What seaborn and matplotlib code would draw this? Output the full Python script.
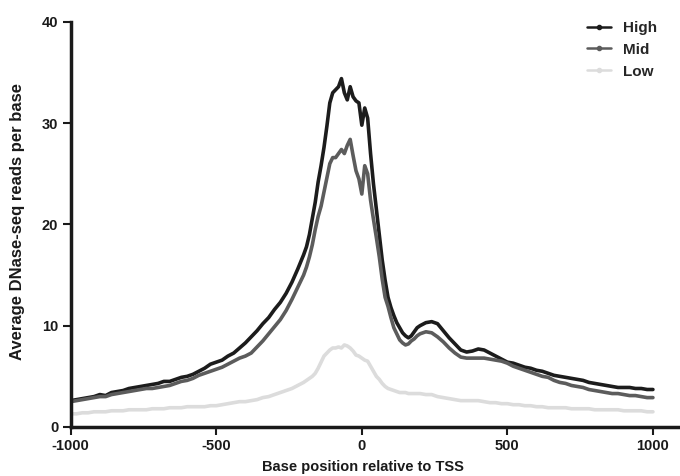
import numpy as np
import pandas as pd
import matplotlib
matplotlib.use("Agg")
import matplotlib.pyplot as plt
from matplotlib.lines import Line2D
import seaborn as sns

# posicoes (passo 20 nas bordas, 10 perto do TSS)
pos = np.concatenate([np.arange(-1000, -200, 20), np.arange(-200, 200, 10), np.arange(200, 1001, 20)])

high = [2.6, 2.7, 2.8, 2.9, 3.0, 3.2, 3.1, 3.4, 3.5, 3.6, 3.8, 3.9, 4.0, 4.1, 4.2, 4.3, 4.5, 4.5, 4.7, 4.9,
        5.0, 5.2, 5.5, 5.8, 6.2, 6.4, 6.6, 7.0, 7.3, 7.8, 8.3, 8.9, 9.5, 10.2, 10.8, 11.6, 12.3, 13.2, 14.3, 15.6,
        17.0, 17.8, 19.0, 20.6, 22.2, 24.2, 25.8, 27.6, 29.7, 32.0, 33.0, 33.3, 33.6, 34.4, 33.0, 32.3, 33.6, 32.6, 32.2, 32.0,
        29.8, 31.5, 30.5, 27.0, 24.0, 21.5, 19.0, 16.5, 14.5, 12.8, 11.8, 11.0, 10.3, 9.8, 9.3, 9.0, 8.8, 9.0, 9.4, 9.8,
        10.0, 10.3, 10.4, 10.2, 9.5, 8.8, 8.2, 7.6, 7.4, 7.5, 7.7, 7.6, 7.3, 7.0, 6.7, 6.4, 6.3, 6.1, 5.9, 5.8,
        5.6, 5.5, 5.3, 5.1, 5.0, 4.9, 4.8, 4.7, 4.6, 4.4, 4.3, 4.2, 4.1, 4.0, 3.9, 3.9, 3.9, 3.8, 3.8, 3.7, 3.7]

mid = [2.5, 2.6, 2.7, 2.8, 2.9, 3.0, 3.0, 3.2, 3.3, 3.4, 3.5, 3.6, 3.7, 3.8, 3.8, 3.9, 4.0, 4.1, 4.3, 4.5,
       4.6, 4.8, 5.1, 5.3, 5.5, 5.7, 5.9, 6.2, 6.5, 6.8, 7.0, 7.3, 7.9, 8.5, 9.2, 9.9, 10.6, 11.5, 12.6, 13.8,
       15.0, 15.8, 16.8, 18.0, 19.5, 20.8, 21.8, 23.2, 24.6, 26.0, 26.6, 26.6, 27.0, 27.4, 27.0, 27.8, 28.4, 26.8, 25.3, 24.5,
       23.0, 25.8, 25.0, 22.4, 20.5, 18.7, 16.8, 14.6, 12.8, 11.9, 10.8, 9.8, 9.2, 8.6, 8.3, 8.1, 8.2, 8.5, 8.7, 9.0,
       9.2, 9.4, 9.3, 8.9, 8.4, 7.8, 7.3, 6.9, 6.8, 6.8, 6.8, 6.8, 6.7, 6.6, 6.5, 6.3, 6.0, 5.8, 5.6, 5.4,
       5.2, 5.0, 4.9, 4.6, 4.4, 4.3, 4.1, 4.0, 3.9, 3.7, 3.6, 3.5, 3.4, 3.3, 3.3, 3.2, 3.1, 3.1, 3.0, 2.9, 2.9]

low = [1.3, 1.3, 1.4, 1.4, 1.5, 1.5, 1.5, 1.6, 1.6, 1.6, 1.7, 1.7, 1.7, 1.7, 1.8, 1.8, 1.8, 1.9, 1.9, 1.9,
       2.0, 2.0, 2.0, 2.0, 2.1, 2.1, 2.2, 2.3, 2.4, 2.5, 2.5, 2.6, 2.7, 2.9, 3.0, 3.2, 3.4, 3.6, 3.8, 4.1,
       4.4, 4.6, 4.8, 5.0, 5.3, 5.8, 6.4, 7.0, 7.3, 7.6, 7.8, 7.8, 7.9, 7.8, 8.1, 8.0, 7.8, 7.5, 7.1, 7.0,
       6.8, 6.6, 6.5, 6.0, 5.5, 5.0, 4.7, 4.3, 4.0, 3.8, 3.7, 3.6, 3.5, 3.4, 3.4, 3.4, 3.3, 3.3, 3.3, 3.3,
       3.3, 3.2, 3.2, 3.0, 2.9, 2.8, 2.7, 2.6, 2.6, 2.6, 2.6, 2.5, 2.4, 2.4, 2.3, 2.3, 2.2, 2.2, 2.1, 2.1,
       2.0, 2.0, 1.9, 1.9, 1.9, 1.9, 1.8, 1.8, 1.8, 1.8, 1.7, 1.7, 1.7, 1.7, 1.7, 1.6, 1.6, 1.6, 1.6, 1.5, 1.5]

grupos = ['High', 'Mid', 'Low']
cores = {'High': '#1c1c1c', 'Mid': '#5c5c5c', 'Low': '#dcdcdc'}

df = pd.concat([
    pd.DataFrame({'pos': pos, 'reads': high, 'grupo': 'High'}),
    pd.DataFrame({'pos': pos, 'reads': mid, 'grupo': 'Mid'}),
    pd.DataFrame({'pos': pos, 'reads': low, 'grupo': 'Low'}),
])

sns.set_style("ticks")
plt.rcParams['font.family'] = ['Liberation Sans', 'DejaVu Sans']
plt.rcParams['font.weight'] = 'bold'
plt.rcParams['axes.unicode_minus'] = False

fig = plt.figure(figsize=(6.8, 4.76), dpi=100)
ax = fig.add_axes([0.104, 0.103, 0.896, 0.851])

sns.lineplot(data=df, x='pos', y='reads', hue='grupo', hue_order=grupos, palette=cores,
             linewidth=2.6, legend=False, ax=ax)

ax.set_xlim(-1000, 1093)
ax.set_ylim(0, 40)
ax.set_xticks([-1000, -500, 0, 500, 1000])
ax.set_yticks([0, 10, 20, 30, 40])
ax.tick_params(axis='both', labelsize=10.5, width=1.5, length=6, pad=3, direction='out', colors='#1a1a1a')
for lbl in ax.get_xticklabels() + ax.get_yticklabels():
    lbl.set_fontweight('bold')

for s in ['top', 'right']:
    ax.spines[s].set_visible(False)
for s in ['left', 'bottom']:
    ax.spines[s].set_linewidth(2.5)
    ax.spines[s].set_color('#1a1a1a')

ax.set_xlabel('')
ax.set_ylabel('')
fig.text(363 / 680, 1 - 467 / 476, 'Base position relative to TSS', fontsize=10.5, fontweight='bold',
         ha='center', va='center', color='#1a1a1a')
fig.text(18 / 680, 1 - 222 / 476, 'Average DNase-seq reads per base', fontsize=12, fontweight='bold',
         rotation=90, ha='center', va='center', color='#1a1a1a')

handles = [Line2D([0], [0], color=cores[g], lw=1.8, marker='o', markersize=3) for g in grupos]
leg = ax.legend(handles, grupos, loc='upper left', bbox_to_anchor=(587 / 680, 1 - 21 / 476),
                bbox_transform=fig.transFigure, frameon=False, borderpad=0, borderaxespad=0,
                fontsize=11, handlelength=1.6, handletextpad=0.78, labelspacing=0.51)
for t in leg.get_texts():
    t.set_fontweight('bold')

fig.savefig('out.png', dpi=100)
